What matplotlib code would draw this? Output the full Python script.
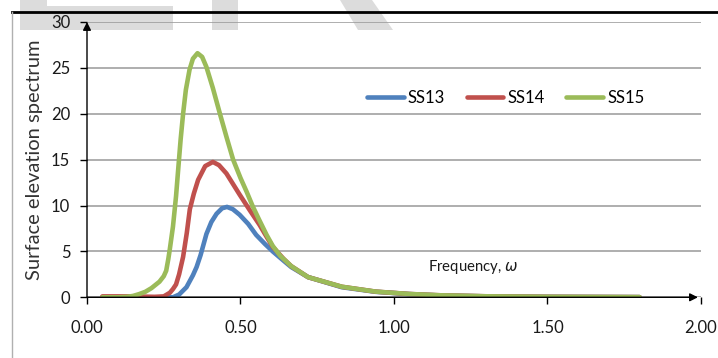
import numpy as np
from matplotlib import pyplot as plt
from matplotlib.lines import Line2D
from matplotlib.patches import Polygon

plt.rcParams['font.family'] = ['Lato', 'DejaVu Sans']

# values
ss13_w = [0.05, 0.20, 0.28, 0.30, 0.324, 0.345, 0.357, 0.37, 0.389, 0.405, 0.422, 0.44,
          0.456, 0.475, 0.497, 0.525, 0.551, 0.58, 0.605, 0.64, 0.665, 0.72, 0.83, 0.94,
          1.05, 1.15, 1.30, 1.50, 1.80]
ss13_s = [0.0, 0.0, 0.0, 0.3, 1.1, 2.4, 3.3, 4.6, 6.9, 8.2, 9.1, 9.7,
          9.85, 9.6, 9.0, 8.0, 6.8, 5.8, 5.0, 4.0, 3.3, 2.2, 1.1, 0.6,
          0.35, 0.2, 0.1, 0.05, 0.02]

ss14_w = [0.05, 0.15, 0.22, 0.25, 0.27, 0.28, 0.29, 0.30, 0.313, 0.325, 0.335, 0.348,
          0.362, 0.385, 0.41, 0.43, 0.454, 0.497, 0.53, 0.562, 0.585, 0.605, 0.64, 0.665,
          0.72, 0.83, 0.94, 1.05, 1.15, 1.30, 1.50, 1.80]
ss14_s = [0.1, 0.1, 0.05, 0.1, 0.5, 0.9, 1.4, 2.5, 4.4, 7.0, 9.6, 11.3,
          12.8, 14.3, 14.75, 14.4, 13.5, 11.2, 9.5, 7.9, 6.6, 5.5, 4.2, 3.4,
          2.2, 1.15, 0.62, 0.36, 0.22, 0.11, 0.05, 0.02]

ss15_w = [0.05, 0.10, 0.13, 0.15, 0.17, 0.19, 0.21, 0.236, 0.25, 0.258, 0.265, 0.27,
          0.28, 0.29, 0.296, 0.305, 0.313, 0.322, 0.334, 0.345, 0.36, 0.375, 0.389, 0.41,
          0.433, 0.455, 0.476, 0.50, 0.52, 0.54, 0.56, 0.585, 0.605, 0.63, 0.665, 0.72,
          0.83, 0.94, 1.05, 1.15, 1.30, 1.50, 1.80]
ss15_s = [0.0, 0.0, 0.05, 0.15, 0.35, 0.6, 1.0, 1.7, 2.3, 2.9, 4.2, 5.3,
          7.7, 11.0, 13.5, 17.2, 20.0, 22.6, 24.8, 26.0, 26.6, 26.2, 25.1, 22.8,
          20.0, 17.4, 15.0, 13.0, 11.5, 9.9, 8.5, 6.8, 5.6, 4.5, 3.4, 2.2,
          1.15, 0.62, 0.36, 0.22, 0.11, 0.05, 0.02]

series = [('SS13', ss13_w, ss13_s, '#4F81BD'),
          ('SS14', ss14_w, ss14_s, '#C0504D'),
          ('SS15', ss15_w, ss15_s, '#9BBB59')]

x_ticks = [0.0, 0.5, 1.0, 1.5, 2.0]
y_ticks = [0, 5, 10, 15, 20, 25, 30]

W, H = 718, 358


def px(x, y):
    return (x / W, 1 - y / H)


fig = plt.figure(figsize=(W / 100, H / 100), dpi=100)

# faint watermark behind the chart
wm = '#DCDCDC'
for pts in ([(20, 0), (47, 0), (47, 30), (20, 30)],
            [(47, 6), (173, 6), (173, 30), (47, 30)],
            [(212, 0), (238, 0), (238, 30), (212, 30)],
            [(340, 0), (372, 0), (393, 30), (358, 30)]):
    fig.patches.append(Polygon([px(*p) for p in pts], closed=True, facecolor=wm,
                               edgecolor='none', transform=fig.transFigure, zorder=-5))

# page frame lines
fig.add_artist(Line2D([px(11.7, 0)[0], 1], [px(0, 12.3)[1]] * 2, color='black', lw=2,
                      transform=fig.transFigure))
fig.add_artist(Line2D([px(11.7, 0)[0]] * 2, [0, px(0, 12.3)[1]], color='#B0B0B0', lw=1,
                      transform=fig.transFigure))

ax = fig.add_axes([87 / W, (H - 297.3) / H, 614 / W, 275.3 / H])
ax.patch.set_alpha(0)

for name, w, s, c in series:
    ax.plot(w, s, color=c, lw=3.3, label=name, solid_joinstyle='round',
            solid_capstyle='round', zorder=3)

ax.set_xlim(0, 2)
ax.set_ylim(0, 30)
ax.set_xticks(x_ticks)
ax.set_xticklabels([f'{v:.2f}' for v in x_ticks])
ax.set_yticks(y_ticks)
for sp in ax.spines.values():
    sp.set_visible(False)

ax.yaxis.grid(True, color='#999999', lw=1.1)
ax.set_axisbelow(True)
ax.tick_params(axis='x', direction='out', length=5, width=1, pad=11,
               labelsize=12, labelcolor='#1a1a1a')
ax.tick_params(axis='y', direction='out', length=5, width=1, pad=7,
               labelsize=12, labelcolor='#1a1a1a')

# axis lines with arrow heads
arrow = dict(arrowstyle='-|>', color='black', lw=1, mutation_scale=12,
             shrinkA=0, shrinkB=0)
ax.annotate('', xy=(0, 1), xytext=(0, 0), xycoords='axes fraction',
            textcoords='axes fraction', arrowprops=arrow, zorder=4)
ax.annotate('', xy=(0.995, 0), xytext=(0, 0), xycoords='axes fraction',
            textcoords='axes fraction', arrowprops=arrow, zorder=4)

ax.set_ylabel('Surface elevation spectrum', fontsize=14.5, color='#333333')
ax.yaxis.set_label_coords(-0.072, 0.5)
ax.text(1.11, 3.3, 'Frequency, $\\omega$', fontsize=10.7, va='center', color='#1a1a1a')

ax.legend(loc='center', bbox_to_anchor=(0.682, 0.724), ncol=3, frameon=False,
          fontsize=12, handlelength=2.2, handletextpad=0.25, columnspacing=1.3)

plt.savefig('out.png', dpi=100)
